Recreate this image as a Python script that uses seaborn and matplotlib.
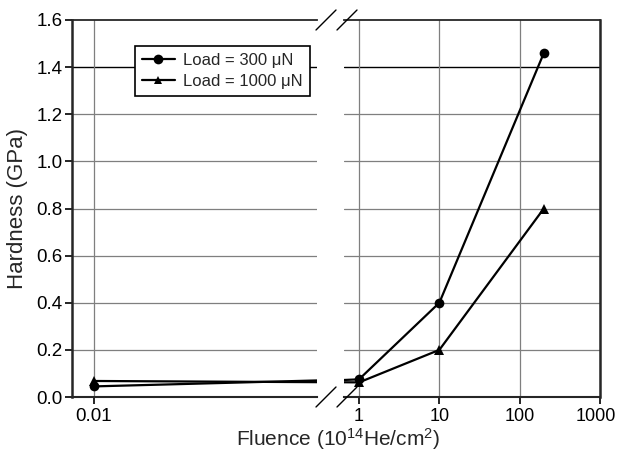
import pandas as pd
import seaborn as sns
import matplotlib.pyplot as plt
import matplotlib.transforms as mtransforms
from matplotlib.lines import Line2D
from matplotlib.ticker import NullLocator

# values
fluence = [0.01, 1, 10, 200]
hardness_300 = [0.045, 0.075, 0.40, 1.46]
hardness_1000 = [0.068, 0.062, 0.20, 0.80]
loads = ['Load = 300 \u03bcN', 'Load = 1000 \u03bcN']
y_ticks = [0.0, 0.2, 0.4, 0.6, 0.8, 1.0, 1.2, 1.4, 1.6]
left_ticks = [0.01]
right_ticks = [1, 10, 100, 1000]

df = pd.DataFrame({
    'fluence': fluence * 2,
    'hardness': hardness_300 + hardness_1000,
    'load': [loads[0]] * len(fluence) + [loads[1]] * len(fluence),
})

sns.set_style('ticks')
plt.rcParams['font.family'] = ['Liberation Sans', 'DejaVu Sans']
plt.rcParams['mathtext.fontset'] = 'custom'
plt.rcParams['mathtext.rm'] = 'Liberation Sans'
plt.rcParams['mathtext.it'] = 'Liberation Sans'

W, H = 618, 454
fig = plt.figure(figsize=(W / 100, H / 100), dpi=100)
ax_l = fig.add_axes([72 / W, 57 / H, 245 / W, 377 / H])
ax_r = fig.add_axes([344 / W, 57 / H, 256 / W, 377 / H])

for ax in (ax_l, ax_r):
    ax.set_xscale('log')
    for y in y_ticks[1:-1]:
        ax.axhline(y, color='black' if y == 1.4 else '#7f7f7f', lw=1.0 if y == 1.4 else 0.9, zorder=0.5)
    sns.lineplot(data=df, x='fluence', y='hardness', style='load', markers=['o', '^'],
                 dashes=False, color='black', lw=1.6, markersize=7, markeredgewidth=0,
                 ax=ax, legend=False, zorder=3)
    ax.set_ylim(0, 1.6)
    ax.set_yticks(y_ticks)
    ax.xaxis.set_minor_locator(NullLocator())
    ax.set_xlabel('')
    ax.set_ylabel('')
    ax.grid(axis='x', color='#7f7f7f', lw=0.9)
    ax.tick_params(direction='out', length=5, width=1.2, colors='black', labelsize=13.5, pad=3)

ax_l.set_xlim(0.00682, 0.482)
ax_l.set_xticks(left_ticks)
ax_l.set_xticklabels(['0.01'])
ax_l.set_yticklabels([f'{v:.1f}' for v in y_ticks])
ax_l.tick_params(axis='y', pad=2)
ax_l.spines['right'].set_visible(False)
ax_l.spines['left'].set_linewidth(1.8)
ax_l.spines['bottom'].set_linewidth(1.5)
ax_l.spines['top'].set_linewidth(1.3)
ax_l.set_ylabel('Hardness (GPa)', fontsize=16, labelpad=6)

ax_r.set_xlim(0.65, 1000)
ax_r.set_xticks(right_ticks)
ax_r.set_xticklabels([str(t) for t in right_ticks])
ax_r.spines['left'].set_visible(False)
ax_r.spines['right'].set_linewidth(1.8)
ax_r.spines['bottom'].set_linewidth(1.5)
ax_r.spines['top'].set_linewidth(1.3)
ax_r.tick_params(axis='y', left=False, labelleft=False)
ax_r.tick_params(axis='x', labelsize=13)
# keep the last label inside the canvas
last = ax_r.get_xticklabels()[-1]
last.set_transform(last.get_transform() + mtransforms.ScaledTranslation(-4 / 100, 0, fig.dpi_scale_trans))

handles = [
    Line2D([], [], color='black', lw=1.6, marker='o', markersize=7, markeredgewidth=0),
    Line2D([], [], color='black', lw=1.6, marker='^', markersize=6, markeredgewidth=0),
]
leg = ax_l.legend(handles, loads, loc='upper left', bbox_to_anchor=(0.257, 0.93),
                  borderaxespad=0, fancybox=False, framealpha=1, edgecolor='black',
                  fontsize=12, handlelength=2.0, handletextpad=0.5, borderpad=0.4,
                  labelspacing=0.35)
leg.get_frame().set_linewidth(1.2)

# break marks
for xc in (326, 347):
    for yc in (20, 397):
        fig.add_artist(Line2D([(xc - 10) / W, (xc + 10) / W],
                              [(H - yc - 10) / H, (H - yc + 10) / H],
                              transform=fig.transFigure, color='black', lw=1.0))

fig.text(0.547, 0.004, 'Fluence (10$^{14}$He/cm$^{2}$)', ha='center', va='bottom', fontsize=15)

plt.savefig('out.png', dpi=100)
